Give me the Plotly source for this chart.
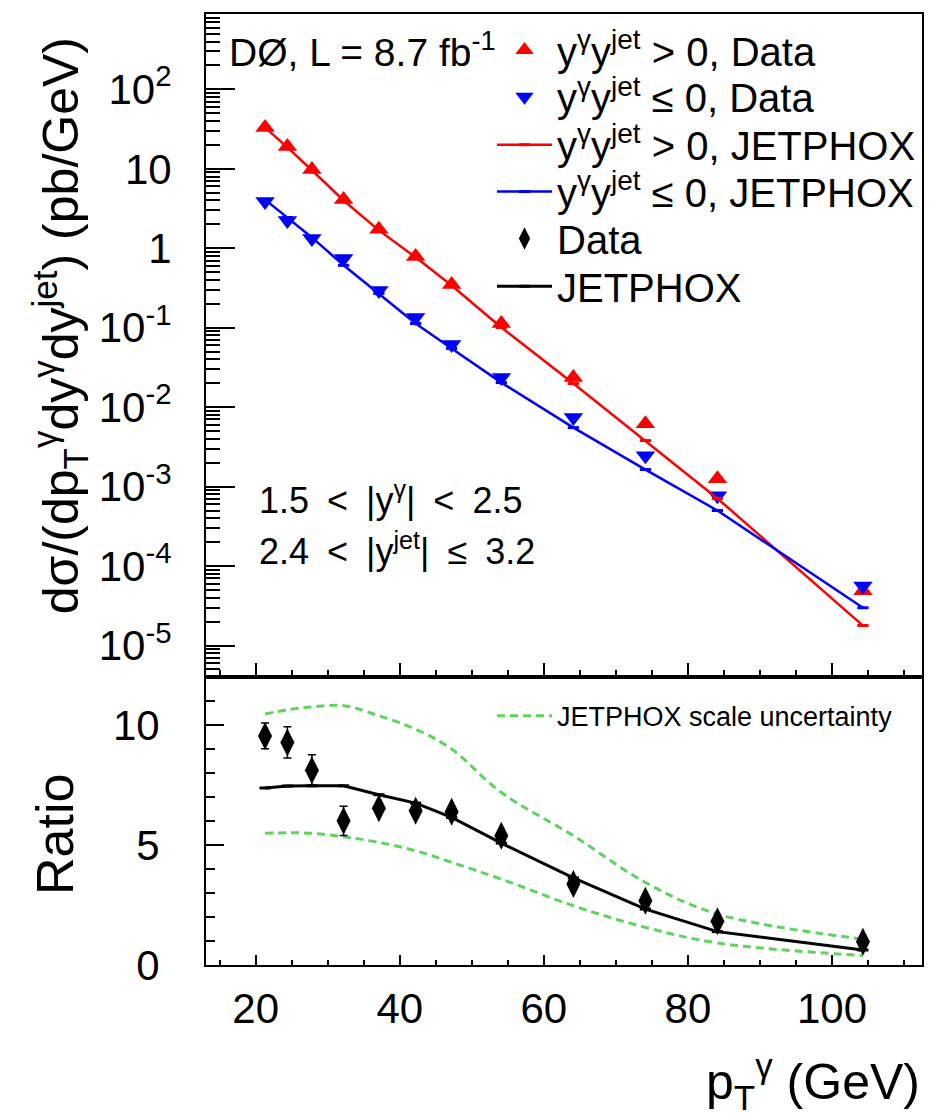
import plotly.graph_objects as go
from plotly.subplots import make_subplots

# ---------------- data ----------------
pt = [21.3, 24.4, 27.8, 32.2, 37.1, 42.2, 47.2, 54.1, 64.1, 74.1, 84.1, 104.3]

red_data = [33.2, 19.1, 9.8, 4.1, 1.73, 0.79, 0.35, 0.113, 0.0236, 0.0062, 0.00126, 4.9e-5]
blue_data = [3.88, 2.24, 1.33, 0.745, 0.294, 0.1346, 0.0614, 0.0236, 0.0074, 0.00245, 7.7e-4, 5.6e-5]
red_jetphox = [33.0, 18.6, 9.6, 4.0, 1.68, 0.77, 0.34, 0.1007, 0.0198, 0.0038, 7.1e-4, 1.78e-5]
blue_jetphox = [4.1, 2.44, 1.37, 0.61, 0.27, 0.113, 0.0547, 0.0204, 0.00553, 0.00164, 5.0e-4, 2.99e-5]

ratio_data = [9.55, 9.28, 8.12, 6.01, 6.53, 6.43, 6.39, 5.39, 3.38, 2.68, 1.82, 0.97]
ratio_err = [0.54, 0.65, 0.64, 0.61, 0.15, 0.15, 0.15, 0.15, 0.12, 0.12, 0.12, 0.1]
ratio_jetphox = [7.38, 7.46, 7.47, 7.47, 7.10, 6.75, 6.15, 5.08, 3.63, 2.33, 1.39, 0.625]
scale_up = [10.46, 10.64, 10.76, 10.81, 10.39, 9.83, 9.0, 7.19, 5.39, 3.44, 2.125, 1.08]
scale_down = [5.49, 5.51, 5.49, 5.35, 5.11, 4.76, 4.28, 3.58, 2.47, 1.57, 0.92, 0.39]

log_major = [1e-5, 1e-4, 1e-3, 1e-2, 1e-1, 1, 10, 100]
log_major_text = ["10<sup>-5</sup>", "10<sup>-4</sup>", "10<sup>-3</sup>", "10<sup>-2</sup>",
                  "10<sup>-1</sup>", "1", "10", "10<sup>2</sup>"]

FONT = "Liberation Sans, Arial, Helvetica, sans-serif"
RED = "#ff0000"
BLUE = "#0000ff"
GREEN = "#5ed45e"
GREEN_DASH = "8px,5px"


def px(x):
    return (x - 206) / 716.0


def py(y):
    return (965.3 - y) / 953.3


fig = make_subplots(rows=2, cols=1, shared_xaxes=True, vertical_spacing=0,
                    row_heights=[0.6973, 0.3027])

# top panel
fig.add_trace(go.Scatter(x=pt, y=red_data, mode="markers",
                         marker=dict(symbol="triangle-up", size=17, color=RED),
                         name="y<sup>γ</sup>y<sup>jet</sup> > 0, Data", legend="legend"), row=1, col=1)
fig.add_trace(go.Scatter(x=pt, y=blue_data, mode="markers",
                         marker=dict(symbol="triangle-down", size=17, color=BLUE),
                         name="y<sup>γ</sup>y<sup>jet</sup> ≤ 0, Data", legend="legend2"), row=1, col=1)
fig.add_trace(go.Scatter(x=pt, y=red_jetphox, mode="lines+markers",
                         line=dict(color=RED, width=2.5),
                         marker=dict(symbol="line-ew", size=8, line=dict(color=RED, width=3)),
                         name="y<sup>γ</sup>y<sup>jet</sup> > 0, JETPHOX", legend="legend3"), row=1, col=1)
fig.add_trace(go.Scatter(x=pt, y=blue_jetphox, mode="lines+markers",
                         line=dict(color=BLUE, width=2.5),
                         marker=dict(symbol="line-ew", size=8, line=dict(color=BLUE, width=3)),
                         name="y<sup>γ</sup>y<sup>jet</sup> ≤ 0, JETPHOX", legend="legend4"), row=1, col=1)

# bottom panel
fig.add_trace(go.Scatter(x=pt, y=scale_up, mode="lines",
                         line=dict(color=GREEN, width=3, dash=GREEN_DASH, shape="spline"),
                         name="JETPHOX scale uncertainty", legend="legend7"), row=2, col=1)
fig.add_trace(go.Scatter(x=pt, y=scale_down, mode="lines",
                         line=dict(color=GREEN, width=3, dash=GREEN_DASH, shape="spline"),
                         showlegend=False), row=2, col=1)
fig.add_trace(go.Scatter(x=pt, y=ratio_data, mode="markers",
                         marker=dict(symbol="diamond-tall", size=20, color="black"),
                         error_y=dict(type="data", array=ratio_err, color="black", thickness=1.5, width=4),
                         name="Data", legend="legend5"), row=2, col=1)
fig.add_trace(go.Scatter(x=pt, y=ratio_jetphox, mode="lines+markers",
                         line=dict(color="black", width=3),
                         marker=dict(symbol="line-ew", size=8, line=dict(color="black", width=3)),
                         name="JETPHOX", legend="legend6"), row=2, col=1)

axis_common = dict(showline=True, linecolor="black", linewidth=2, mirror=True,
                   showgrid=False, zeroline=False, ticks="inside", tickcolor="black",
                   tickfont=dict(family=FONT, size=42, color="black"))

fig.update_xaxes(range=[13.1, 112.5], tick0=20, dtick=20, **axis_common)
fig.update_xaxes(row=1, col=1, showticklabels=False, ticklen=14, tickwidth=2,
                 minor=dict(ticks="inside", ticklen=7, dtick=5, tick0=0, tickcolor="black", tickwidth=1.5))
fig.update_xaxes(row=2, col=1, ticklen=10, tickwidth=2, ticklabelstandoff=6,
                 minor=dict(ticks="inside", ticklen=5, dtick=5, tick0=0, tickcolor="black", tickwidth=1.5))

minor_log = [k * 10.0 ** e for e in range(-6, 3) for k in range(2, 10)]
minor_log = [v for v in minor_log if 4e-6 <= v <= 890]
fig.update_yaxes(row=1, col=1, type="log", range=[-5.398, 2.949], tickmode="array",
                 tickvals=log_major, ticktext=log_major_text, ticklen=29, tickwidth=2,
                 ticklabelstandoff=24,
                 minor=dict(ticks="inside", tickmode="array", tickvals=minor_log, ticklen=14,
                            tickcolor="black", tickwidth=1.5),
                 **axis_common)
fig.update_yaxes(row=2, col=1, range=[0, 12], tickmode="array", tickvals=[0, 5, 10],
                 ticklen=18, tickwidth=2, ticklabelstandoff=36,
                 minor=dict(ticks="inside", dtick=1, tick0=0, ticklen=9, tickcolor="black", tickwidth=1.5),
                 **axis_common)

SP = "\u2002"
annotations = [
    dict(text="DØ, L = 8.7 fb<sup>-1</sup>", x=px(227), y=py(48), xanchor="left", yanchor="middle",
         font=dict(size=39)),
    dict(text=f"1.5{SP}<{SP}|y<sup>γ</sup>|{SP}<{SP}2.5", x=px(257), y=py(497), xanchor="left",
         yanchor="middle", font=dict(size=36)),
    dict(text=f"2.4{SP}<{SP}|y<sup>jet</sup>|{SP}≤{SP}3.2", x=px(257), y=py(548), xanchor="left",
         yanchor="middle", font=dict(size=36)),
    dict(text="dσ/(dp<sub>T</sub><sup>γ</sup>dy<sup>γ</sup>dy<sup>jet</sup>) (pb/GeV)", x=px(60), y=py(325),
         xanchor="center", yanchor="middle", textangle=-90, font=dict(size=50)),
    dict(text="Ratio", x=px(55), y=py(835), xanchor="center", yanchor="middle", textangle=-90,
         font=dict(size=52)),
    dict(text="p<sub>T</sub><sup>γ</sup> (GeV)", x=px(922), y=py(1082), xanchor="right", yanchor="middle",
         font=dict(size=50)),
]
for a in annotations:
    a.update(xref="paper", yref="paper", showarrow=False)
    a["font"].update(family=FONT, color="black")

legend_rows = [48, 95, 143, 190, 237, 285]
legend_cfg = {}
for i, yc in enumerate(legend_rows):
    key = "legend" if i == 0 else f"legend{i + 1}"
    legend_cfg[key] = dict(x=px(492), y=py(yc), xanchor="left", yanchor="middle",
                           bgcolor="rgba(0,0,0,0)", font=dict(family=FONT, size=40, color="black"),
                           itemwidth=55)
legend_cfg["legend7"] = dict(x=px(492), y=py(716), xanchor="left", yanchor="middle",
                             bgcolor="rgba(0,0,0,0)", font=dict(family=FONT, size=27, color="black"),
                             itemwidth=55)

fig.update_layout(
    width=939, height=1119,
    margin=dict(l=206, r=17, t=12, b=154),
    paper_bgcolor="white", plot_bgcolor="white",
    font=dict(family=FONT, color="black"),
    annotations=annotations,
    showlegend=True,
    **legend_cfg,
)

fig.write_html("out.html")
